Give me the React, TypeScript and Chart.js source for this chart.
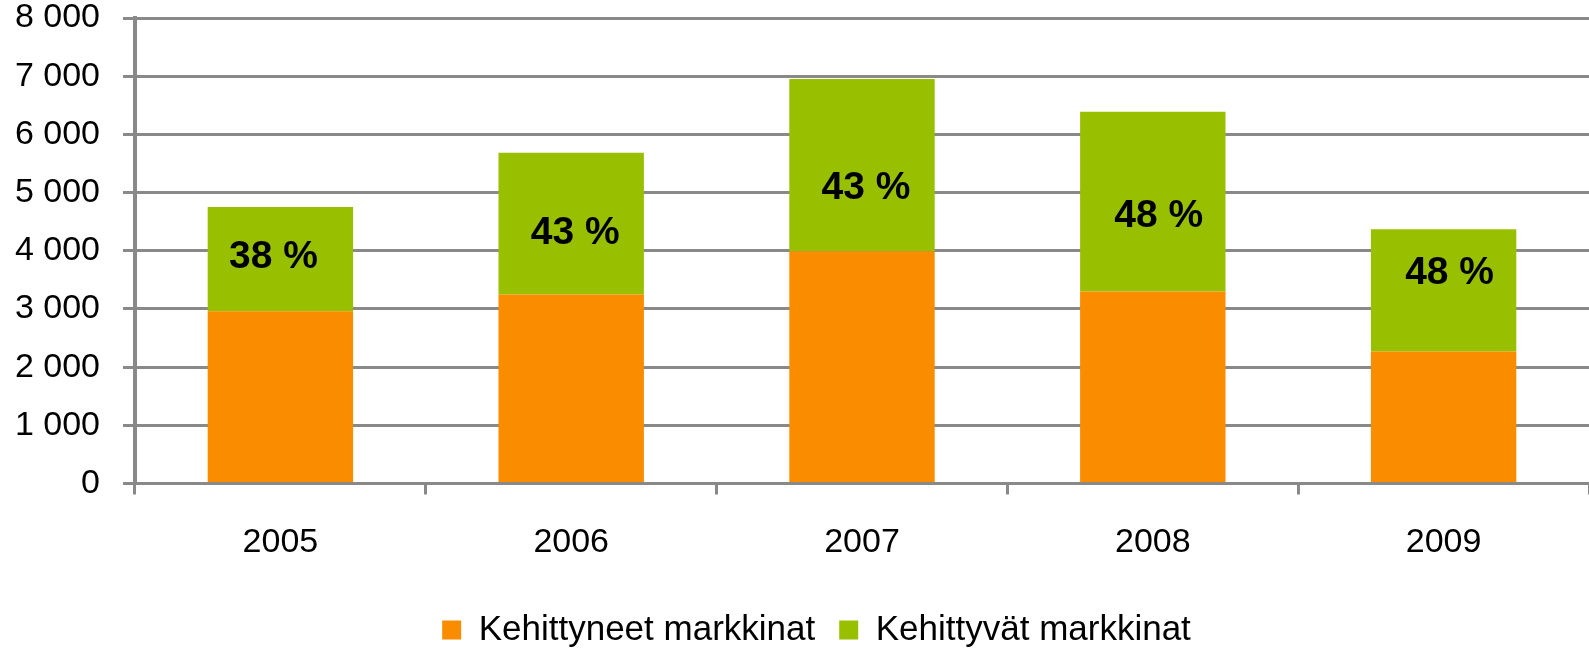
import React, { useEffect, useRef } from "react";
import { Chart, registerables } from "chart.js";

Chart.register(...registerables);

const years = ["2005", "2006", "2007", "2008", "2009"];
const developed = [2960, 3250, 3990, 3300, 2270];
const emerging = [1790, 2435, 2960, 3090, 2100];
const shareLabels = ["38 %", "43 %", "43 %", "48 %", "48 %"];
const yTicks = [0, 1000, 2000, 3000, 4000, 5000, 6000, 7000, 8000];

const FONT = "'Liberation Sans', Arial, sans-serif";
const GRID = "#898989";

// placement of the hand-positioned share labels (value on the y scale, small x nudge in px)
const LABEL_Y = [3885, 4305, 5078, 4595, 3617];
const LABEL_DX = [-7, 4, 4, 6, 6];

const shareLabelPlugin = {
  id: "shareLabels",
  afterDatasetsDraw(chart: any) {
    const { ctx, scales } = chart;
    ctx.save();
    ctx.font = `bold 39px ${FONT}`;
    ctx.fillStyle = "#000";
    ctx.textAlign = "center";
    ctx.textBaseline = "middle";
    shareLabels.forEach((t, i) => {
      ctx.fillText(t, scales.x.getPixelForValue(i) + LABEL_DX[i], scales.y.getPixelForValue(LABEL_Y[i]));
    });
    ctx.restore();
  },
};

// centre the legend under the plot area (x axis span) rather than the full canvas
const legendShiftPlugin = {
  id: "legendShift",
  afterLayout(chart: any) {
    const lg = chart.legend;
    if (!lg) return;
    const shift = 22;
    lg.left += shift;
    lg.right += shift;
  },
};

export default function App() {
  const ref = useRef<HTMLCanvasElement>(null);
  useEffect(() => {
    document.body.style.margin = "0";
    const chart = new Chart(ref.current!, {
      type: "bar",
      data: {
        labels: years,
        datasets: [
          { label: "Kehittyneet markkinat", data: developed, backgroundColor: "#FA8C00" },
          { label: "Kehittyvät markkinat", data: emerging, backgroundColor: "#99C000" },
        ],
      },
      options: {
        animation: false,
        responsive: false,
        maintainAspectRatio: false,
        layout: { padding: { left: 0, right: 0, top: 18, bottom: -6.5 } },
        datasets: { bar: { barPercentage: 0.5, categoryPercentage: 1.0 } },
        plugins: {
          tooltip: { enabled: false },
          legend: {
            position: "bottom",
            labels: {
              font: { family: FONT, size: 35 },
              color: "#000",
              boxWidth: 19,
              boxHeight: 19,
              padding: 24,
            },
          },
        },
        scales: {
          x: {
            stacked: true,
            afterFit: (s: any) => {
              s.height = 105;
            },
            grid: { display: true, drawOnChartArea: false, color: GRID, lineWidth: 3, tickLength: 11, offset: true },
            border: { display: true, color: GRID, width: 3 },
            ticks: { font: { family: FONT, size: 34 }, color: "#000", padding: 28 },
          },
          y: {
            stacked: true,
            min: 0,
            max: 8000,
            afterBuildTicks: (axis: any) => {
              axis.ticks = yTicks.map((v) => ({ value: v }));
            },
            afterFit: (s: any) => {
              s.width = 135;
              s.paddingTop = 0;
              s.paddingBottom = 0;
            },
            grid: { color: GRID, lineWidth: 3, tickLength: 12 },
            border: { display: true, color: GRID, width: 4 },
            ticks: {
              font: { family: FONT, size: 34 },
              color: "#000",
              padding: 23,
              callback: (v: any) => String(v).replace(/\B(?=(\d{3})+(?!\d))/g, " "),
            },
          },
        },
      },
      plugins: [shareLabelPlugin, legendShiftPlugin],
    });
    return () => chart.destroy();
  }, []);
  return <canvas ref={ref} width={1589} height={651} style={{ display: "block" }} />;
}
